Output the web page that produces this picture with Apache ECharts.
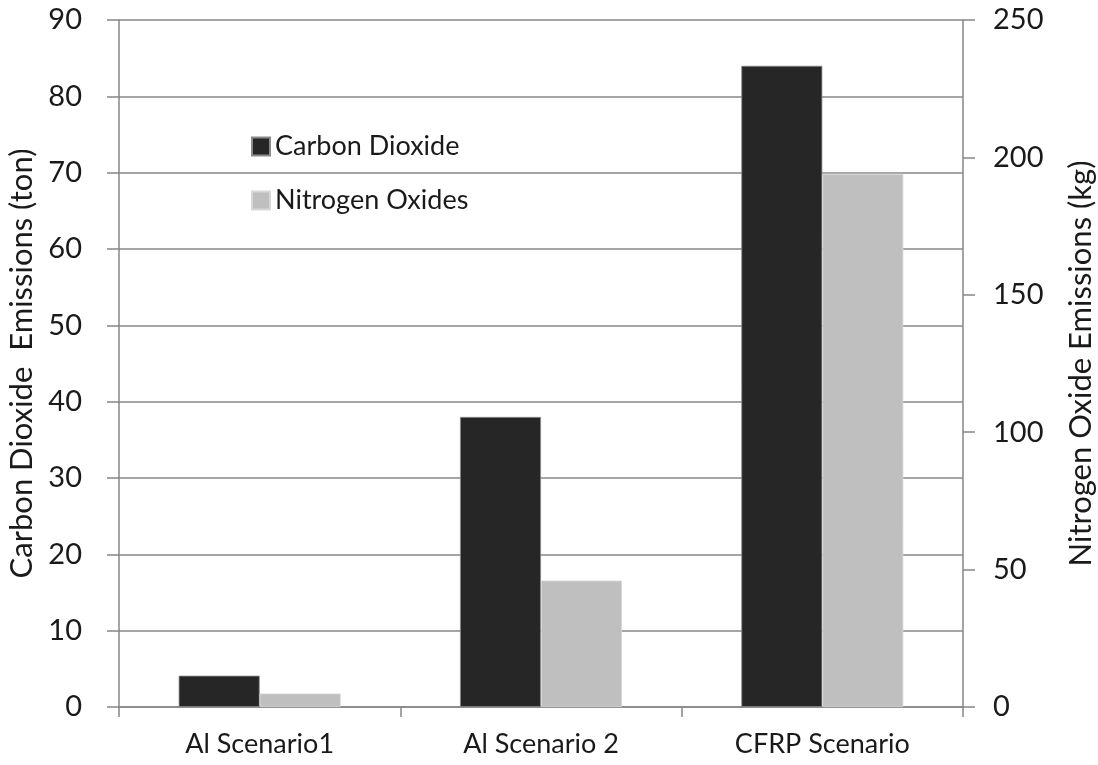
<!DOCTYPE html>
<html>
<head>
<meta charset="utf-8">
<script src="https://cdn.jsdelivr.net/npm/echarts@6/dist/echarts.min.js"></script>
<style>
  html, body { margin: 0; padding: 0; background: #ffffff; }
  #chart { width: 1098px; height: 765px; }
</style>
</head>
<body>
<div id="chart"></div>
<script>
// Emissions per scenario
const categories = ['Al Scenario1', 'Al Scenario 2', 'CFRP Scenario'];
const co2Tons = [4.1, 38, 84];          // left axis, ton
const noxKg = [4.9, 46, 194];           // right axis, kg
const leftTicks = { min: 0, max: 90, interval: 10 };
const rightTicks = { min: 0, max: 250, interval: 50 };

const axisGray = '#878787';
const textColor = '#1a1a1a';
const fontFamily = 'Lato, "Open Sans", "Noto Sans", sans-serif';

const chart = echarts.init(document.getElementById('chart'), null, { renderer: 'canvas' });

chart.setOption({
  backgroundColor: '#ffffff',
  animation: false,
  textStyle: { fontFamily: fontFamily },
  grid: { left: 119, right: 135, top: 20, bottom: 58, containLabel: false, outerBoundsMode: 'none' },
  legend: {
    orient: 'vertical',
    left: 246,
    top: 128,
    itemWidth: 18,
    itemHeight: 18,
    itemGap: 27,
    icon: 'rect',
    textStyle: { fontFamily: fontFamily, fontSize: 27, color: textColor, padding: [0, 0, 0, 0] },
    data: ['Carbon Dioxide', 'Nitrogen Oxides']
  },
  xAxis: {
    type: 'category',
    data: categories,
    axisLine: { lineStyle: { color: axisGray, width: 1.5 } },
    axisTick: { show: true, length: 10, alignWithLabel: false, lineStyle: { color: axisGray, width: 1.5 } },
    axisLabel: { fontFamily: fontFamily, fontSize: 27, color: textColor, margin: 24 }
  },
  yAxis: [
    {
      type: 'value',
      min: leftTicks.min, max: leftTicks.max, interval: leftTicks.interval,
      position: 'left',
      name: 'Carbon Dioxide  Emissions (ton)',
      nameLocation: 'middle',
      nameGap: 80,
      nameRotate: 90,
      nameTextStyle: { fontFamily: fontFamily, fontSize: 31, color: textColor },
      axisLine: { show: true, lineStyle: { color: axisGray, width: 1.5 } },
      axisTick: { show: true, length: 12, inside: false, lineStyle: { color: axisGray, width: 1.5 } },
      axisLabel: { fontFamily: fontFamily, fontSize: 29, color: textColor, margin: 37 },
      splitLine: { show: true, lineStyle: { color: axisGray, width: 1.5 } }
    },
    {
      type: 'value',
      min: rightTicks.min, max: rightTicks.max, interval: rightTicks.interval,
      position: 'right',
      name: 'Nitrogen Oxide Emissions (kg)',
      nameLocation: 'middle',
      nameGap: 102,
      nameRotate: 90,
      nameTextStyle: { fontFamily: fontFamily, fontSize: 31, color: textColor },
      axisLine: { show: true, lineStyle: { color: axisGray, width: 1.5 } },
      axisTick: { show: true, length: 12, inside: false, lineStyle: { color: axisGray, width: 1.5 } },
      axisLabel: { fontFamily: fontFamily, fontSize: 29, color: textColor, margin: 30 },
      splitLine: { show: false }
    }
  ],
  series: [
    {
      name: 'Carbon Dioxide',
      type: 'bar',
      yAxisIndex: 0,
      data: co2Tons,
      barWidth: 81,
      barGap: '0%',
      itemStyle: { color: '#262626', borderColor: '#8a8a8a', borderWidth: 0.8 }
    },
    {
      name: 'Nitrogen Oxides',
      type: 'bar',
      yAxisIndex: 1,
      data: noxKg,
      barWidth: 81,
      barGap: '0%',
      itemStyle: { color: '#bfbfbf', borderColor: '#d8d8d8', borderWidth: 0.8 }
    }
  ]
});
</script>
</body>
</html>
